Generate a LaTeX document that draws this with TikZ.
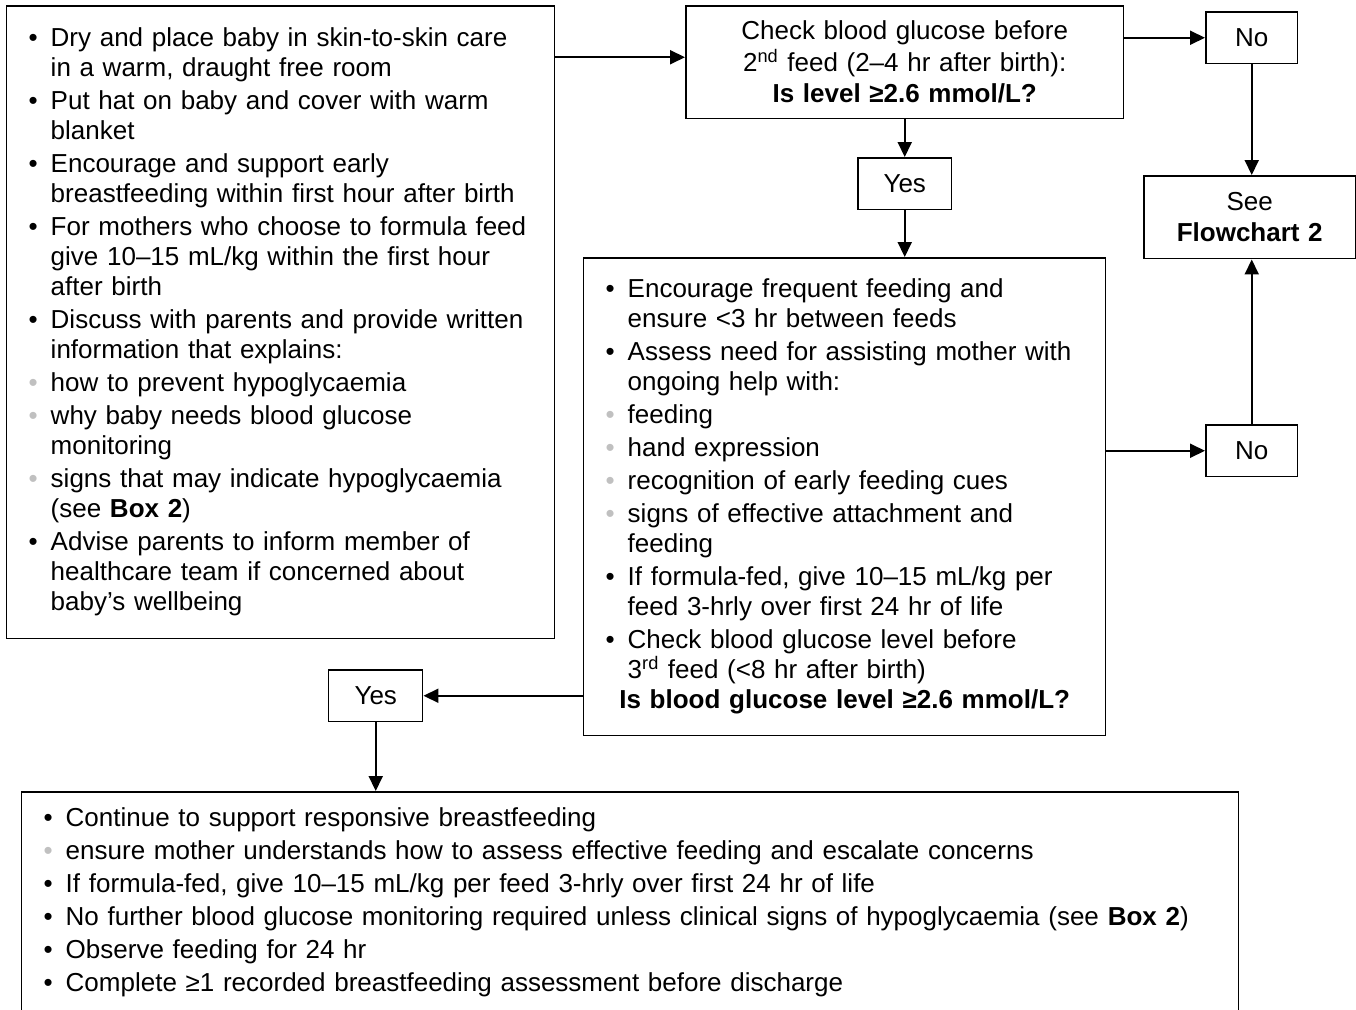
\documentclass[tikz,border=0pt]{standalone}
\usepackage{fontspec}
\setmainfont{Liberation Sans}
\usetikzlibrary{arrows.meta, positioning}
\usepackage{xcolor}
\definecolor{subitem}{RGB}{192, 192, 192}
\newcommand{\itemb}{\makebox[0.44cm][l]{\textbullet}}
\newcommand{\itemg}{\makebox[0.44cm][l]{\textcolor{subitem}{\textbullet}}}
\newcommand{\itemc}{\hspace*{0.44cm}}
\newcommand{\nextitem}{\\[0.06cm]}
\tikzset{
  caixa/.style={
    draw, line width=0.85pt, inner sep=0pt, anchor=north west,
    font=\fontsize{14.8}{17.07}\selectfont
  },
  caixaLista/.style={caixa, align=left, inner xsep=0.44cm},
  caixaPerg/.style={caixa, align=center},
  caixaResp/.style={caixa, align=center, minimum width=1.84cm, minimum height=1.04cm},
  link/.style={-{Triangle[length=0.3cm, width=0.28cm]}, line width=1.1pt},
}
\begin{document}
\begin{tikzpicture}[x=0.02cm, y=-0.02cm]
        \useasboundingbox (0,0) rectangle (1356,1009);
        \clip (0,0) rectangle (1356,1009);

        \node[caixaLista, text width=10.08cm, minimum height=12.66cm] (boxA) at (6,5) {%
          \itemb Dry and place baby in skin-to-skin care\\
          \itemc in a warm, draught free room\nextitem
          \itemb Put hat on baby and cover with warm\\
          \itemc blanket\nextitem
          \itemb Encourage and support early\\
          \itemc breastfeeding within first hour after birth\nextitem
          \itemb For mothers who choose to formula feed\\
          \itemc give 10–15 mL/kg within the first hour\\
          \itemc after birth\nextitem
          \itemb Discuss with parents and provide written\\
          \itemc information that explains:\nextitem
          \itemg how to prevent hypoglycaemia\nextitem
          \itemg why baby needs blood glucose\\
          \itemc monitoring\nextitem
          \itemg signs that may indicate hypoglycaemia\\
          \itemc (see \textbf{Box 2})\nextitem
          \itemb Advise parents to inform member of\\
          \itemc healthcare team if concerned about\\
          \itemc baby’s wellbeing};

        \node[caixaPerg, text width=8.76cm, minimum height=2.26cm] (boxB) at (685,5)
          {Check blood glucose before\\[0.03cm]
           2\textsuperscript{nd} feed (2–4 hr after birth):\\[0.03cm]
           \textbf{Is level ≥2.6 mmol/L?}};

        \node[caixaResp] (no1) at (1205,11) {No};
        \node[caixaPerg, text width=4.24cm, minimum height=1.66cm] (see) at (1143,175)
          {See\\[0.03cm] \textbf{Flowchart 2}};
        \node[caixaResp, minimum width=1.88cm] (yes1) at (857,157) {Yes};

        \node[caixaLista, text width=9.56cm, minimum height=9.56cm] (boxC) at (583,257) {%
          \itemb Encourage frequent feeding and\\
          \itemc ensure <3 hr between feeds\nextitem
          \itemb Assess need for assisting mother with\\
          \itemc ongoing help with:\nextitem
          \itemg feeding\nextitem
          \itemg hand expression\nextitem
          \itemg recognition of early feeding cues\nextitem
          \itemg signs of effective attachment and\\
          \itemc feeding\nextitem
          \itemb If formula-fed, give 10–15 mL/kg per\\
          \itemc feed 3-hrly over first 24 hr of life\nextitem
          \itemb Check blood glucose level before\\
          \itemc 3\textsuperscript{rd} feed (<8 hr after birth)\\
          \makebox[9.56cm]{\textbf{Is blood glucose level ≥2.6 mmol/L?}}};

        \node[caixaResp] (no2) at (1205,424) {No};
        \node[caixaResp, minimum width=1.88cm] (yes2) at (328,669) {Yes};

        \node[caixaLista, text width=23.46cm, minimum height=4.44cm] (boxD) at (21,791) {%
          \itemb Continue to support responsive breastfeeding\nextitem
          \itemg ensure mother understands how to assess effective feeding and escalate concerns\nextitem
          \itemb If formula-fed, give 10–15 mL/kg per feed 3-hrly over first 24 hr of life\nextitem
          \itemb No further blood glucose monitoring required unless clinical signs of hypoglycaemia (see \textbf{Box 2})\nextitem
          \itemb Observe feeding for 24 hr\nextitem
          \itemb Complete ≥1 recorded breastfeeding assessment before discharge};

        % ligações
        \coordinate (inB) at ([yshift=0.1cm]boxB.west);
        \draw[link] (boxA.east |- inB) -- (inB);
        \draw[link] (boxB.east |- no1.west) -- (no1.west);
        \draw[link] (no1.south) -- (no1.south |- see.north);
        \draw[link] (yes1.north |- boxB.south) -- (yes1.north);
        \draw[link] (yes1.south) -- (yes1.south |- boxC.north);
        \draw[link] (boxC.east |- no2.west) -- (no2.west);
        \draw[link] (no2.north) -- (no2.north |- see.south);
        \draw[link] (boxC.west |- yes2.east) -- (yes2.east);
        \draw[link] (yes2.south) -- (yes2.south |- boxD.north);
      \end{tikzpicture}
\end{document}
